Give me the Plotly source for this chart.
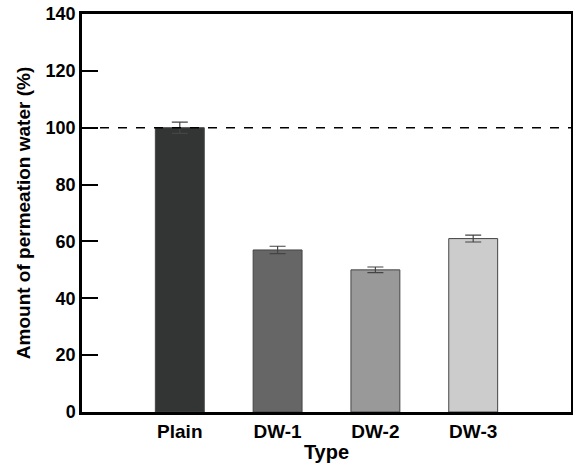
import plotly.graph_objects as go

categories = ["Plain", "DW-1", "DW-2", "DW-3"]
values = [100, 57, 50, 61]
errors = [2.0, 1.3, 1.0, 1.2]
colors = ["#333535", "#666666", "#999999", "#cccccc"]
ref_value = 100
y_ticks = [0, 20, 40, 60, 80, 100, 120, 140]

fig = go.Figure()
fig.add_trace(go.Bar(
    x=list(range(len(categories))), y=values,
    width=0.5,
    marker=dict(color=colors, line=dict(color="#444444", width=1)),
    error_y=dict(type="data", array=errors, color="#444444", thickness=1.2, width=8),
))
fig.add_shape(type="line", xref="paper", x0=0, x1=1, yref="y", y0=ref_value, y1=ref_value,
              line=dict(color="black", width=1.5, dash="dash"))
font = "Liberation Sans, Arial, sans-serif"
fig.update_layout(
    width=573, height=463,
    margin=dict(l=82, r=2, t=14, b=51),
    plot_bgcolor="white", paper_bgcolor="white",
    showlegend=False,
    font=dict(family=font, color="black"),
    xaxis=dict(range=[-1, 4], tickmode="array", tickvals=list(range(len(categories))),
               ticktext=["<b>%s</b>" % c for c in categories],
               ticks="", ticklen=0, showgrid=False, showline=True, linecolor="black", linewidth=2.5,
               mirror=True, tickfont=dict(size=19), zeroline=False, automargin=False,
               title=dict(text="<b>Type</b>", font=dict(size=20), standoff=6)),
    yaxis=dict(range=[0, 140], tickvals=y_ticks,
               ticktext=["<b>%d</b>" % v for v in y_ticks],
               ticks="inside", ticklen=16, tickwidth=2, tickcolor="black",
               showgrid=False, showline=True, linecolor="black", linewidth=2.5, mirror=True,
               zeroline=False, tickfont=dict(size=18), automargin=False,
               title=dict(text="<b>Amount of permeation water (%)</b>", font=dict(size=19), standoff=10)),
)
fig.write_html("out.html", config={"displayModeBar": False},
               post_script="document.body.style.margin='0';document.body.style.overflow='hidden';")
